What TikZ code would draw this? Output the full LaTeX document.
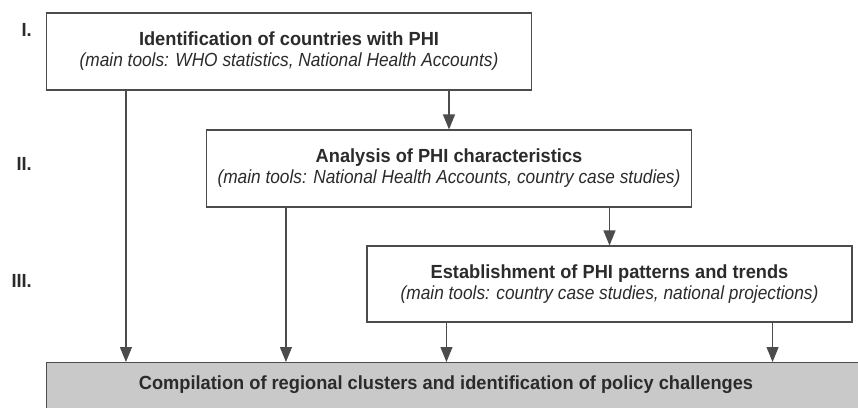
\documentclass[tikz,border=0pt]{standalone}
\usepackage{fontspec}
\setmainfont{Liberation Sans}[FakeStretch=0.96, ItalicFeatures={FakeStretch=0.91}]
\usetikzlibrary{arrows.meta}

\definecolor{boxline}{gray}{0.3}
\definecolor{boxfill}{gray}{0.79}
\definecolor{inktext}{gray}{0.17}

\begin{document}
\begin{tikzpicture}[x=1pt,y=-1pt,
		stagebox/.style={draw=boxline, line width=1.1pt, fill=white, minimum width=485pt, minimum height=77pt, inner sep=0pt, align=center, text=inktext, font=\fontsize{19}{21}\selectfont},
		stagelabel/.style={anchor=east, inner sep=0pt, text=inktext, font=\bfseries\fontsize{19}{21}\selectfont},
		flowarrow/.style={draw=boxline, line width=1.1pt, -{Triangle[width=12pt,length=15pt]}}]
		\clip (0,0) rectangle (858,407);
		
		\node[stagelabel] (stageI) at (32,30) {I.};
		\node[stagelabel] (stageII) at (32,164) {II.};
		\node[stagelabel] (stageIII) at (32,281) {III.};
		
		\node[stagebox] (ident) at (289,51.5) {{\bfseries Identification of countries with PHI}\\{\itshape (main tools: WHO statistics, National Health Accounts)}};
		\node[stagebox] (analysis) at (449,168.5) {{\bfseries Analysis of PHI characteristics}\\{\itshape (main tools: National Health Accounts, country case studies)}};
		\node[stagebox, minimum height=76pt] (estab) at (609.5,284) {{\bfseries Establishment of PHI patterns and trends}\\{\itshape (main tools: country case studies, national projections)}};
		
		\node[draw=boxline, line width=1.1pt, fill=boxfill, minimum width=840pt, minimum height=60pt, anchor=north west] (compil) at (46,362) {};
		\node[text=inktext, font=\bfseries\fontsize{19}{21}\selectfont] (compiltext) at (446,385) {Compilation of regional clusters and identification of policy challenges};
		
		\coordinate (identout) at ([xshift=80pt]ident.south west);
		\coordinate (analysisout) at ([xshift=80pt]analysis.south west);
		\coordinate (estabout) at ([xshift=80pt]estab.south west);
		\coordinate (estabend) at ([xshift=-80pt]estab.south east);
		
		\draw[flowarrow] (identout) -- (identout |- compil.north);
		\draw[flowarrow] (analysis.north |- ident.south) -- (analysis.north);
		\draw[flowarrow] (analysisout) -- (analysisout |- compil.north);
		\draw[flowarrow] (estab.north |- analysis.south) -- (estab.north);
		\draw[flowarrow] (estabout) -- (estabout |- compil.north);
		\draw[flowarrow] (estabend) -- (estabend |- compil.north);
	\end{tikzpicture}
\end{document}
